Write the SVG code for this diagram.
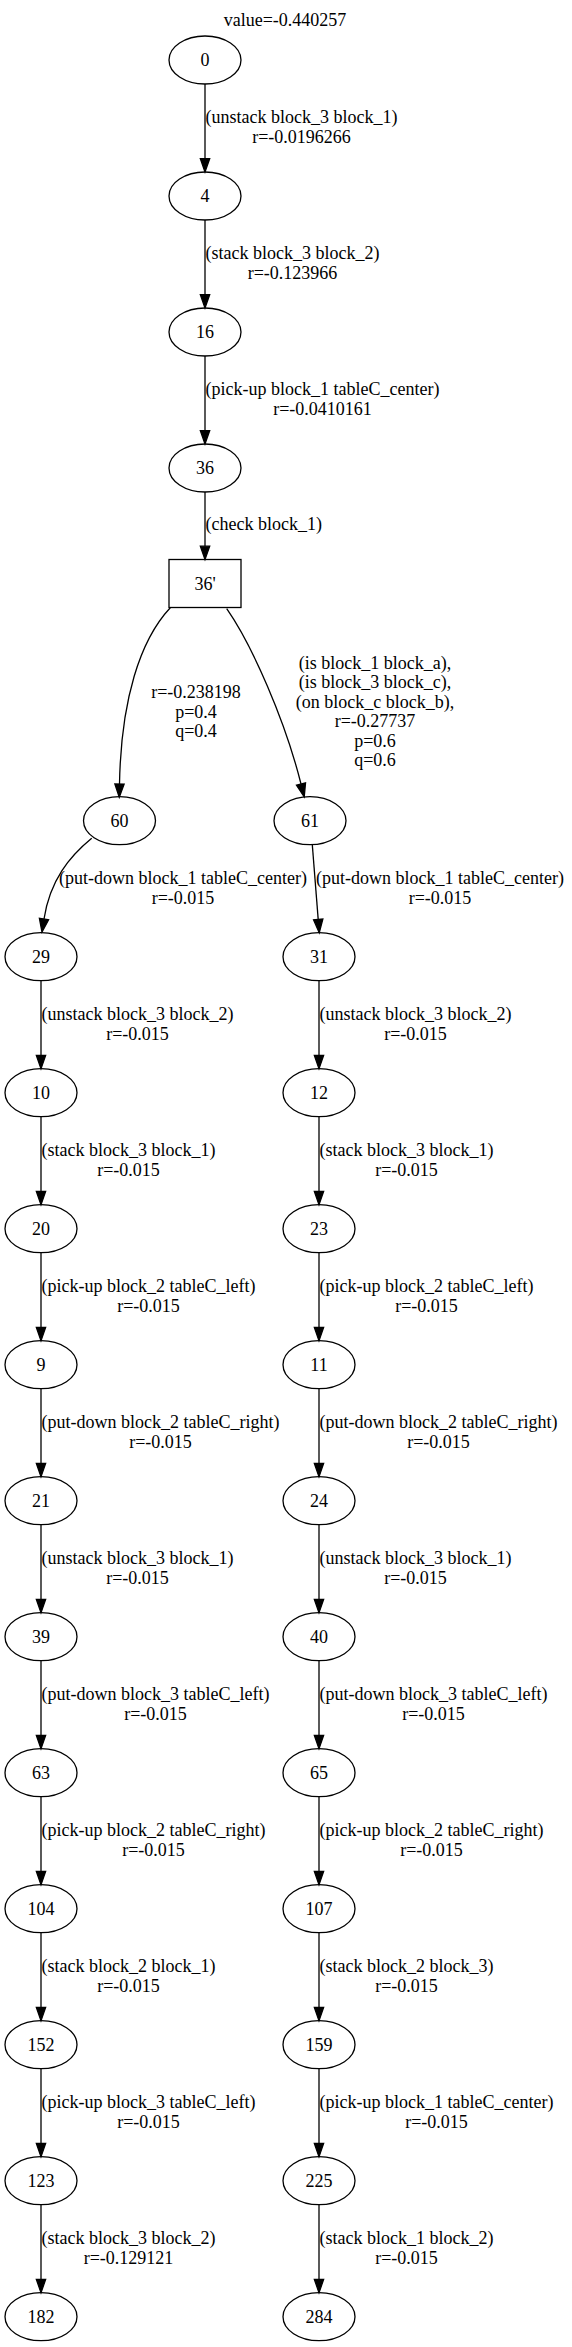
<svg xmlns="http://www.w3.org/2000/svg" width="572" height="2347" viewBox="0 0 572 2347">
<style>
text{font-family:"Liberation Serif","Times New Roman",serif;font-size:18px;fill:#000;text-anchor:middle}
.n ellipse,.n rect{fill:none;stroke:#000;stroke-width:1.3}
.e path{fill:none;stroke:#000;stroke-width:1.3;marker-end:url(#arr)}
</style>
<defs>
<marker id="arr" viewBox="0 0 13.33 9.33" refX="0" refY="4.67" markerWidth="13.33" markerHeight="9.33" markerUnits="userSpaceOnUse" orient="auto" overflow="visible">
<path d="M0,0 L13.33,4.67 L0,9.33 Z" fill="#000" stroke="#000" stroke-width="1.3"/>
</marker>
</defs>
<rect width="572" height="2347" fill="#fff"/>
<text x="285" y="26">value=-0.440257</text>

<g id="connectors" class="e">
<g id="e0_4"><path d="M205,84 L205,158.7"/><text x="301.5" y="123.3">(unstack block_3 block_1)</text><text x="301.5" y="142.8">r=-0.0196266</text></g>
<g id="e4_16"><path d="M205,220 L205,294.7"/><text x="292.5" y="259.3">(stack block_3 block_2)</text><text x="292.5" y="278.8">r=-0.123966</text></g>
<g id="e16_36"><path d="M205,356 L205,430.7"/><text x="322.5" y="395.3">(pick-up block_1 tableC_center)</text><text x="322.5" y="414.8">r=-0.0410161</text></g>
<g id="e36_36p"><path d="M205,492 L205,546.2"/><text x="263.7" y="530">(check block_1)</text></g>
<g id="e36p_60"><path d="M170.3,607.7 C140,640 121,700 119.5,784"/><text x="196" y="698">r=-0.238198</text><text x="196" y="717.5">p=0.4</text><text x="196" y="737">q=0.4</text></g>
<g id="e36p_61"><path d="M226.7,608.7 C252,645 285,720 301,784"/><text x="375" y="668.8">(is block_1 block_a),</text><text x="375" y="688.3">(is block_3 block_c),</text><text x="375" y="707.8">(on block_c block_b),</text><text x="375" y="727.3">r=-0.27737</text><text x="375" y="746.8">p=0.6</text><text x="375" y="766.3">q=0.6</text></g>
<g id="e60_29"><path d="M91.7,838.3 C70,856 50,880 44,919"/><text x="183" y="884">(put-down block_1 tableC_center)</text><text x="183" y="903.5">r=-0.015</text></g>
<g id="e61_31"><path d="M312.3,844.7 L318.2,919.4"/><text x="440" y="884">(put-down block_1 tableC_center)</text><text x="440" y="903.5">r=-0.015</text></g>

<g id="e29_10"><path d="M41,980.7 L41,1055.4"/><text x="137.5" y="1020">(unstack block_3 block_2)</text><text x="137.5" y="1039.5">r=-0.015</text></g>
<g id="e10_20"><path d="M41,1116.7 L41,1191.4"/><text x="128.5" y="1156">(stack block_3 block_1)</text><text x="128.5" y="1175.5">r=-0.015</text></g>
<g id="e20_9"><path d="M41,1252.7 L41,1327.4"/><text x="148.5" y="1292">(pick-up block_2 tableC_left)</text><text x="148.5" y="1311.5">r=-0.015</text></g>
<g id="e9_21"><path d="M41,1388.7 L41,1463.4"/><text x="160.5" y="1428">(put-down block_2 tableC_right)</text><text x="160.5" y="1447.5">r=-0.015</text></g>
<g id="e21_39"><path d="M41,1524.7 L41,1599.4"/><text x="137.5" y="1564">(unstack block_3 block_1)</text><text x="137.5" y="1583.5">r=-0.015</text></g>
<g id="e39_63"><path d="M41,1660.7 L41,1735.4"/><text x="155.5" y="1700">(put-down block_3 tableC_left)</text><text x="155.5" y="1719.5">r=-0.015</text></g>
<g id="e63_104"><path d="M41,1796.7 L41,1871.4"/><text x="153.5" y="1836">(pick-up block_2 tableC_right)</text><text x="153.5" y="1855.5">r=-0.015</text></g>
<g id="e104_152"><path d="M41,1932.7 L41,2007.4"/><text x="128.5" y="1972">(stack block_2 block_1)</text><text x="128.5" y="1991.5">r=-0.015</text></g>
<g id="e152_123"><path d="M41,2068.7 L41,2143.4"/><text x="148.5" y="2108">(pick-up block_3 tableC_left)</text><text x="148.5" y="2127.5">r=-0.015</text></g>
<g id="e123_182"><path d="M41,2204.7 L41,2279.4"/><text x="128.5" y="2244">(stack block_3 block_2)</text><text x="128.5" y="2263.5">r=-0.129121</text></g>

<g id="e31_12"><path d="M319,980.7 L319,1055.4"/><text x="415.5" y="1020">(unstack block_3 block_2)</text><text x="415.5" y="1039.5">r=-0.015</text></g>
<g id="e12_23"><path d="M319,1116.7 L319,1191.4"/><text x="406.5" y="1156">(stack block_3 block_1)</text><text x="406.5" y="1175.5">r=-0.015</text></g>
<g id="e23_11"><path d="M319,1252.7 L319,1327.4"/><text x="426.5" y="1292">(pick-up block_2 tableC_left)</text><text x="426.5" y="1311.5">r=-0.015</text></g>
<g id="e11_24"><path d="M319,1388.7 L319,1463.4"/><text x="438.5" y="1428">(put-down block_2 tableC_right)</text><text x="438.5" y="1447.5">r=-0.015</text></g>
<g id="e24_40"><path d="M319,1524.7 L319,1599.4"/><text x="415.5" y="1564">(unstack block_3 block_1)</text><text x="415.5" y="1583.5">r=-0.015</text></g>
<g id="e40_65"><path d="M319,1660.7 L319,1735.4"/><text x="433.5" y="1700">(put-down block_3 tableC_left)</text><text x="433.5" y="1719.5">r=-0.015</text></g>
<g id="e65_107"><path d="M319,1796.7 L319,1871.4"/><text x="431.5" y="1836">(pick-up block_2 tableC_right)</text><text x="431.5" y="1855.5">r=-0.015</text></g>
<g id="e107_159"><path d="M319,1932.7 L319,2007.4"/><text x="406.5" y="1972">(stack block_2 block_3)</text><text x="406.5" y="1991.5">r=-0.015</text></g>
<g id="e159_225"><path d="M319,2068.7 L319,2143.4"/><text x="436.5" y="2108">(pick-up block_1 tableC_center)</text><text x="436.5" y="2127.5">r=-0.015</text></g>
<g id="e225_284"><path d="M319,2204.7 L319,2279.4"/><text x="406.5" y="2244">(stack block_1 block_2)</text><text x="406.5" y="2263.5">r=-0.015</text></g>
</g>

<g id="nodes" class="n">
<g id="n0"><ellipse cx="205" cy="60" rx="36" ry="24"/><text x="205" y="66">0</text></g>
<g id="n4"><ellipse cx="205" cy="196" rx="36" ry="24"/><text x="205" y="202">4</text></g>
<g id="n16"><ellipse cx="205" cy="332" rx="36" ry="24"/><text x="205" y="338">16</text></g>
<g id="n36"><ellipse cx="205" cy="468" rx="36" ry="24"/><text x="205" y="474">36</text></g>
<g id="n36p"><rect x="169" y="559.5" width="72" height="48"/><text x="205" y="589.5">36'</text></g>
<g id="n60"><ellipse cx="119.5" cy="820.7" rx="36" ry="24"/><text x="119.5" y="826.7">60</text></g>
<g id="n61"><ellipse cx="310" cy="820.7" rx="36" ry="24"/><text x="310" y="826.7">61</text></g>

<g id="n29"><ellipse cx="41" cy="956.7" rx="36" ry="24"/><text x="41" y="962.7">29</text></g>
<g id="n10"><ellipse cx="41" cy="1092.7" rx="36" ry="24"/><text x="41" y="1098.7">10</text></g>
<g id="n20"><ellipse cx="41" cy="1228.7" rx="36" ry="24"/><text x="41" y="1234.7">20</text></g>
<g id="n9"><ellipse cx="41" cy="1364.7" rx="36" ry="24"/><text x="41" y="1370.7">9</text></g>
<g id="n21"><ellipse cx="41" cy="1500.7" rx="36" ry="24"/><text x="41" y="1506.7">21</text></g>
<g id="n39"><ellipse cx="41" cy="1636.7" rx="36" ry="24"/><text x="41" y="1642.7">39</text></g>
<g id="n63"><ellipse cx="41" cy="1772.7" rx="36" ry="24"/><text x="41" y="1778.7">63</text></g>
<g id="n104"><ellipse cx="41" cy="1908.7" rx="36" ry="24"/><text x="41" y="1914.7">104</text></g>
<g id="n152"><ellipse cx="41" cy="2044.7" rx="36" ry="24"/><text x="41" y="2050.7">152</text></g>
<g id="n123"><ellipse cx="41" cy="2180.7" rx="36" ry="24"/><text x="41" y="2186.7">123</text></g>
<g id="n182"><ellipse cx="41" cy="2316.7" rx="36" ry="24"/><text x="41" y="2322.7">182</text></g>

<g id="n31"><ellipse cx="319" cy="956.7" rx="36" ry="24"/><text x="319" y="962.7">31</text></g>
<g id="n12"><ellipse cx="319" cy="1092.7" rx="36" ry="24"/><text x="319" y="1098.7">12</text></g>
<g id="n23"><ellipse cx="319" cy="1228.7" rx="36" ry="24"/><text x="319" y="1234.7">23</text></g>
<g id="n11"><ellipse cx="319" cy="1364.7" rx="36" ry="24"/><text x="319" y="1370.7">11</text></g>
<g id="n24"><ellipse cx="319" cy="1500.7" rx="36" ry="24"/><text x="319" y="1506.7">24</text></g>
<g id="n40"><ellipse cx="319" cy="1636.7" rx="36" ry="24"/><text x="319" y="1642.7">40</text></g>
<g id="n65"><ellipse cx="319" cy="1772.7" rx="36" ry="24"/><text x="319" y="1778.7">65</text></g>
<g id="n107"><ellipse cx="319" cy="1908.7" rx="36" ry="24"/><text x="319" y="1914.7">107</text></g>
<g id="n159"><ellipse cx="319" cy="2044.7" rx="36" ry="24"/><text x="319" y="2050.7">159</text></g>
<g id="n225"><ellipse cx="319" cy="2180.7" rx="36" ry="24"/><text x="319" y="2186.7">225</text></g>
<g id="n284"><ellipse cx="319" cy="2316.7" rx="36" ry="24"/><text x="319" y="2322.7">284</text></g>
</g>
</svg>
